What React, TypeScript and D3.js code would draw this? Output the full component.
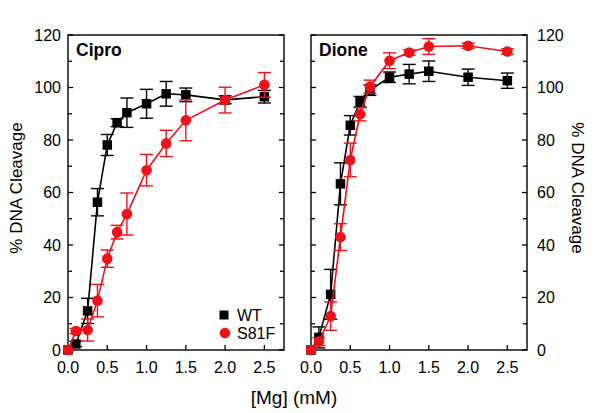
import React from "react";
import * as d3 from "d3";

const mg = [0, 0.1, 0.25, 0.375, 0.5, 0.625, 0.75, 1.0, 1.25, 1.5, 2.0, 2.5];

const ciproWT = [0, 2.3, 14.9, 56.3, 78.1, 86.6, 90.4, 93.8, 97.6, 97.2, 95.3, 96.5];
const ciproWTErr = [0, 1.0, 4.8, 5.2, 4.0, 1.5, 5.6, 5.5, 4.7, 2.6, 1.5, 2.4];
const ciproS81F = [0, 7.2, 7.6, 18.8, 34.8, 44.9, 51.8, 68.5, 78.7, 87.5, 95.2, 101.0];
const ciproS81FErr = [0, 1.0, 4.2, 6.2, 3.3, 2.6, 8.0, 6.0, 5.0, 7.8, 4.9, 4.7];

const dioneWT = [0, 4.8, 21.2, 63.3, 85.6, 94.6, 99.0, 103.9, 105.1, 106.2, 103.9, 102.6];
const dioneWTErr = [0, 4.0, 9.5, 8.0, 3.7, 2.0, 2.0, 2.0, 3.7, 3.9, 3.1, 2.9];
const dioneS81F = [0, 3.2, 12.9, 43.0, 72.4, 89.8, 100.3, 110.2, 113.3, 115.6, 115.9, 113.7];
const dioneS81FErr = [0, 1.5, 5.4, 5.1, 6.4, 2.5, 2.5, 3.0, 1.0, 3.0, 1.0, 1.0];

const xTicks = [0, 0.5, 1.0, 1.5, 2.0, 2.5];
const yTicks = [0, 20, 40, 60, 80, 100, 120];
const yMinor = [10, 30, 50, 70, 90, 110];

const seriesNames = ["WT", "S81F"];
const panelTitles = ["Cipro", "Dione"];

const RED = "#f01018";
const FONT = "'Liberation Sans', Arial, Helvetica, sans-serif";

const W = 600;
const H = 413;
const TOP = 35;
const BOTTOM = 350;
const panelX = [
  [68, 284],
  [311, 527],
];

const y = d3.scaleLinear().domain([0, 120]).range([BOTTOM, TOP]);

function Panel({ idx, wt, wtErr, mut, mutErr, title, legend, labelsRight }) {
  const [x0, x1] = panelX[idx];
  const x = d3.scaleLinear().domain([0, 2.75]).range([x0, x1]);
  const line = d3
    .line<number>()
    .x((_, i) => x(mg[i]))
    .y((v) => y(v));
  const cap = 6.5;
  const sq = 9.5;
  const r = 5.3;

  const errBars = (vals, errs, color) =>
    vals.map((v, i) =>
      errs[i] > 0.6 ? (
        <g key={i} stroke={color} strokeWidth={1.4}>
          <line x1={x(mg[i])} x2={x(mg[i])} y1={y(v - errs[i])} y2={y(v + errs[i])} />
          <line x1={x(mg[i]) - cap} x2={x(mg[i]) + cap} y1={y(v + errs[i])} y2={y(v + errs[i])} />
          <line x1={x(mg[i]) - cap} x2={x(mg[i]) + cap} y1={y(v - errs[i])} y2={y(v - errs[i])} />
        </g>
      ) : null
    );

  return (
    <g>
      {/* axes box */}
      <rect x={x0} y={TOP} width={x1 - x0} height={BOTTOM - TOP} fill="none" stroke="#000" strokeWidth={1.4} />
      {/* y ticks both sides */}
      {yTicks.map((t) => (
        <g key={"yt" + t} stroke="#000" strokeWidth={1.3}>
          <line x1={x0} x2={x0 + 5} y1={y(t)} y2={y(t)} />
          <line x1={x1} x2={x1 - 5} y1={y(t)} y2={y(t)} />
        </g>
      ))}
      {yMinor.map((t) => (
        <g key={"ym" + t} stroke="#000" strokeWidth={1.3}>
          <line x1={x0} x2={x0 + 4} y1={y(t)} y2={y(t)} />
          <line x1={x1} x2={x1 - 4} y1={y(t)} y2={y(t)} />
        </g>
      ))}
      {xTicks.map((t) => (
        <g key={"xt" + t}>
          <line x1={x(t)} x2={x(t)} y1={BOTTOM} y2={BOTTOM - 5} stroke="#000" strokeWidth={1.3} />
          <text x={x(t)} y={373} textAnchor="middle" fontFamily={FONT} fontSize={16} fill="#000">
            {t.toFixed(1)}
          </text>
        </g>
      ))}
      {yTicks.map((t) => (
        <text
          key={"yl" + t}
          x={labelsRight ? x1 + 10 : x0 - 7}
          y={y(t)}
          dy="0.36em"
          textAnchor={labelsRight ? "start" : "end"}
          fontFamily={FONT}
          fontSize={16}
          fill="#000"
        >
          {t}
        </text>
      ))}
      <text x={x0 + 8} y={56} fontFamily={FONT} fontSize={17.5} fontWeight="bold" fill="#000">
        {title}
      </text>

      {/* WT */}
      <path d={line(wt) || ""} fill="none" stroke="#000" strokeWidth={1.6} />
      {errBars(wt, wtErr, "#000")}
      {wt.map((v, i) => (
        <rect key={"s" + i} x={x(mg[i]) - sq / 2} y={y(v) - sq / 2} width={sq} height={sq} fill="#000" />
      ))}
      {/* S81F */}
      <path d={line(mut) || ""} fill="none" stroke={RED} strokeWidth={1.6} />
      {errBars(mut, mutErr, RED)}
      {mut.map((v, i) => (
        <circle key={"c" + i} cx={x(mg[i])} cy={y(v)} r={r} fill={RED} />
      ))}

      {legend && (
        <g fontFamily={FONT} fontSize={16} fill="#000">
          <rect x={224 - 4.5} y={315 - 4.5} width={9} height={9} fill="#000" />
          <text x={237} y={315} dy="0.36em">{seriesNames[0]}</text>
          <circle cx={225} cy={333} r={5.3} fill={RED} />
          <text x={237} y={333} dy="0.36em">{seriesNames[1]}</text>
        </g>
      )}
    </g>
  );
}

export default function App() {
  return (
    <svg width={W} height={H} style={{ display: "block", position: "absolute", left: 0, top: 0, background: "#fff" }}>
      <rect width={W} height={H} fill="#fff" />
      <Panel idx={0} wt={ciproWT} wtErr={ciproWTErr} mut={ciproS81F} mutErr={ciproS81FErr} title={panelTitles[0]} legend={true} labelsRight={false} />
      <Panel idx={1} wt={dioneWT} wtErr={dioneWTErr} mut={dioneS81F} mutErr={dioneS81FErr} title={panelTitles[1]} legend={false} labelsRight={true} />
      <text transform="translate(22,188) rotate(-90)" textAnchor="middle" fontFamily={FONT} fontSize={17} fill="#000">
        % DNA Cleavage
      </text>
      <text transform="translate(572,188) rotate(90)" textAnchor="middle" fontFamily={FONT} fontSize={17} fill="#000">
        % DNA Cleavage
      </text>
      <text x={294} y={404} textAnchor="middle" fontFamily={FONT} fontSize={19} fill="#000">
        [Mg] (mM)
      </text>
    </svg>
  );
}
